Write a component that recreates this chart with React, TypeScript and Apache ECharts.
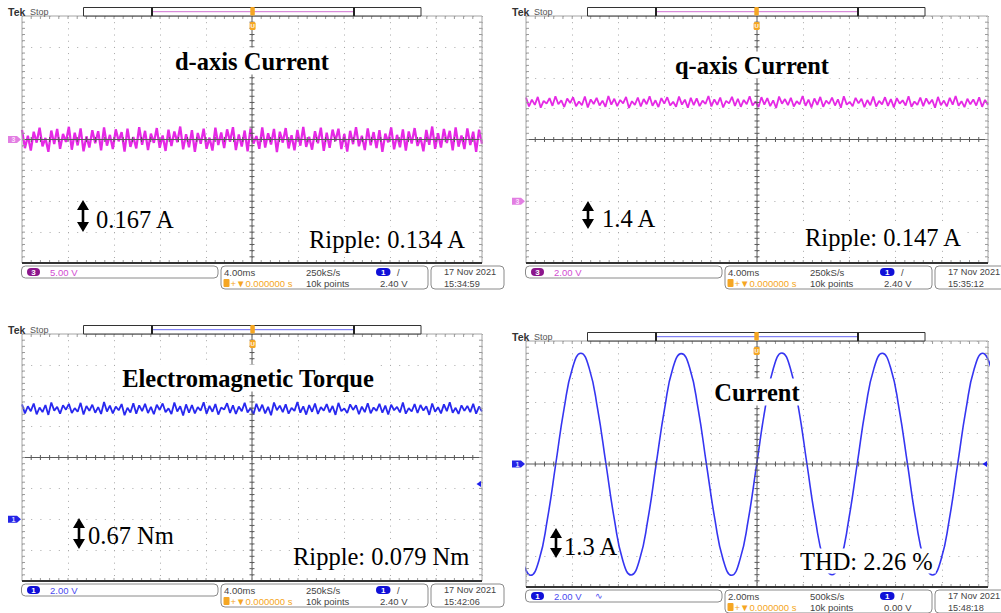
import React, { useEffect, useRef } from "react";
import * as echarts from "echarts";

// ---------- data (values in screen divisions) ----------
const dAxisCurrentDiv = [
  0.31, -0.28, 0.12, -0.36, 0.25, -0.1, 0.38, -0.22, 0.05, -0.4, 0.29, -0.15, 0.34, -0.3, 0.18, -0.08,
  0.41, -0.33, 0.22, -0.19, 0.36, -0.38, 0.1, -0.26, 0.3, -0.12, 0.27, -0.35, 0.39, -0.2, 0.15, -0.31,
  0.33, -0.06, 0.24, -0.39, 0.35, -0.24, 0.08, -0.29, 0.4, -0.17, 0.28, -0.34, 0.19, -0.11, 0.37, -0.27,
  0.13, -0.37, 0.32, -0.21, 0.26, -0.09, 0.42, -0.32, 0.17, -0.25, 0.3, -0.4, 0.21, -0.14, 0.35, -0.3,
  0.06, -0.36, 0.38, -0.18, 0.23, -0.28, 0.33, -0.07, 0.4, -0.34, 0.16, -0.23, 0.29, -0.38, 0.36, -0.13,
  0.11, -0.3, 0.39, -0.26, 0.2, -0.16, 0.34, -0.41, 0.25, -0.1, 0.37, -0.29, 0.14, -0.35, 0.31, -0.2,
  0.41, -0.24, 0.09, -0.33, 0.27, -0.12, 0.38, -0.37, 0.22, -0.27, 0.32, -0.05, 0.35, -0.31, 0.18, -0.39,
  0.28, -0.15, 0.4, -0.22, 0.12, -0.34, 0.36, -0.19, 0.24, -0.28, 0.3, -0.4, 0.19, -0.09, 0.39, -0.32,
  0.15, -0.25, 0.33, -0.36, 0.26, -0.13, 0.37, -0.21, 0.07, -0.38, 0.31, -0.17, 0.42, -0.3, 0.2, -0.26,
  0.34, -0.11, 0.28, -0.35, 0.39, -0.23, 0.13, -0.31, 0.36, -0.18, 0.25, -0.4, 0.32, -0.14,
];

const qAxisCurrentDiv = [
  1.36, 1.07, 1.29, 1.12, 1.38, 1.03, 1.25, 1.16, 1.34, 1.09, 1.4, 1.14, 1.27, 1.05, 1.33, 1.18,
  1.37, 1.08, 1.23, 1.11, 1.39, 1.04, 1.3, 1.15, 1.35, 1.1, 1.26, 1.06, 1.41, 1.13, 1.32, 1.08,
  1.28, 1.17, 1.38, 1.02, 1.24, 1.12, 1.36, 1.07, 1.31, 1.14, 1.4, 1.09, 1.27, 1.05, 1.34, 1.16,
  1.37, 1.1, 1.22, 1.06, 1.39, 1.13, 1.29, 1.03, 1.35, 1.11, 1.33, 1.08, 1.26, 1.15, 1.41, 1.07,
  1.3, 1.12, 1.36, 1.04, 1.25, 1.17, 1.38, 1.09, 1.32, 1.06, 1.28, 1.14, 1.4, 1.1, 1.23, 1.05,
  1.37, 1.13, 1.34, 1.08, 1.27, 1.02, 1.39, 1.16, 1.31, 1.11, 1.35, 1.07, 1.24, 1.14, 1.41, 1.09,
  1.29, 1.04, 1.33, 1.12, 1.38, 1.06, 1.26, 1.15, 1.36, 1.1, 1.3, 1.03, 1.4, 1.13, 1.22, 1.08,
  1.35, 1.17, 1.32, 1.05, 1.28, 1.11, 1.39, 1.07, 1.25, 1.14, 1.37, 1.09, 1.31, 1.04, 1.34, 1.16,
  1.27, 1.1, 1.4, 1.06, 1.23, 1.12, 1.36, 1.08, 1.33, 1.15, 1.29, 1.03, 1.38, 1.11, 1.26, 1.07,
  1.35, 1.13, 1.41, 1.09, 1.24, 1.05, 1.32, 1.14, 1.3, 1.1, 1.37, 1.06, 1.28, 1.12,
];

const torqueDiv = [
  1.72, 1.43, 1.66, 1.5, 1.75, 1.4, 1.62, 1.47, 1.7, 1.38, 1.78, 1.52, 1.64, 1.42, 1.69, 1.55,
  1.74, 1.44, 1.6, 1.48, 1.77, 1.39, 1.67, 1.51, 1.71, 1.45, 1.63, 1.41, 1.8, 1.49, 1.68, 1.43,
  1.65, 1.53, 1.73, 1.37, 1.61, 1.46, 1.76, 1.42, 1.69, 1.5, 1.74, 1.44, 1.64, 1.4, 1.71, 1.54,
  1.75, 1.47, 1.59, 1.41, 1.78, 1.49, 1.66, 1.36, 1.72, 1.45, 1.7, 1.43, 1.63, 1.52, 1.79, 1.42,
  1.67, 1.48, 1.73, 1.39, 1.62, 1.55, 1.76, 1.44, 1.69, 1.41, 1.65, 1.5, 1.77, 1.46, 1.6, 1.4,
  1.74, 1.49, 1.71, 1.43, 1.64, 1.37, 1.78, 1.53, 1.68, 1.47, 1.72, 1.42, 1.61, 1.51, 1.8, 1.45,
  1.66, 1.39, 1.7, 1.48, 1.75, 1.41, 1.63, 1.52, 1.73, 1.46, 1.67, 1.38, 1.77, 1.5, 1.59, 1.44,
  1.72, 1.54, 1.69, 1.4, 1.65, 1.47, 1.76, 1.43, 1.62, 1.51, 1.74, 1.45, 1.68, 1.39, 1.71, 1.53,
  1.64, 1.46, 1.78, 1.42, 1.6, 1.49, 1.73, 1.44, 1.7, 1.52, 1.66, 1.38, 1.75, 1.48, 1.63, 1.43,
  1.72, 1.5, 1.79, 1.45, 1.61, 1.41, 1.69, 1.51, 1.67, 1.47, 1.74, 1.42, 1.65, 1.49,
];

const currentTimeMs = [
  -0.1625, 0.2, 0.5625, 0.925, 1.2875, 1.65, 2.0125, 2.375, 2.7375, 3.1, 3.4625, 3.825, 4.1875,
  4.55, 4.9125, 5.275, 5.6375, 6.0, 6.3625, 6.725, 7.0875, 7.45, 7.8125, 8.175, 8.5375,
  8.9, 9.2625, 9.625, 9.9875, 10.35, 10.7125, 11.075, 11.4375, 11.8, 12.1625, 12.525, 12.8875,
  13.25, 13.6125, 13.975, 14.3375, 14.7, 15.0625, 15.425, 15.7875, 16.15, 16.5125, 16.875, 17.2375,
  17.6, 17.9625, 18.325, 18.6875, 19.05, 19.4125, 19.775, 20.1375,
];
const currentDiv = [
  -3.12, -3.62, -3.13, -1.8, 0.0, 1.81, 3.12, 3.6, 3.11, 1.79, 0.0, -1.8, -3.13,
  -3.61, -3.12, -1.81, 0.01, 1.8, 3.13, 3.59, 3.12, 1.8, -0.01, -1.79, -3.12,
  -3.62, -3.11, -1.8, 0.0, 1.8, 3.12, 3.61, 3.13, 1.81, 0.0, -1.8, -3.12,
  -3.6, -3.13, -1.79, 0.0, 1.81, 3.11, 3.6, 3.12, 1.8, 0.01, -1.81, -3.12,
  -3.61, -3.12, -1.8, 0.0, 1.79, 3.12, 3.6, 3.11,
];

const panelTitles = ["d-axis Current", "q-axis Current", "Electromagnetic Torque", "Current"];
const stepLabels = ["0.167 A", "1.4 A", "0.67 Nm", "1.3 A"];
const resultLabels = ["Ripple: 0.134 A", "Ripple: 0.147 A", "Ripple: 0.079 Nm", "THD: 2.26 %"];
const channelNumbers = ["3", "3", "1", "1"];
const channelScales = ["5.00 V", "2.00 V", "2.00 V", "2.00 V"];
const timeBases = ["4.00ms", "4.00ms", "4.00ms", "2.00ms"];
const sampleRates = ["250kS/s", "250kS/s", "250kS/s", "500kS/s"];
const recordLengths = ["10k points", "10k points", "10k points", "10k points"];
const triggerLevels = ["2.40 V", "2.40 V", "2.40 V", "0.00 V"];
const triggerPositions = ["+▼0.000000 s", "+▼0.000000 s", "+▼0.000000 s", "+▼0.000000 s"];
const captureDates = ["17 Nov 2021", "17 Nov 2021", "17 Nov 2021", "17 Nov 2021"];
const captureTimes = ["15:34:59", "15:35:12", "15:42:06", "15:48:18"];
const timeSpanMs = [40, 40, 40, 20];
const groundLevelDiv = [0, -2, -2, 0];
const triggerMarkDiv = [null, null, -0.86, 0];

// ---------- layout / style ----------
const MAG = "#e41ee4";
const BLUE = "#1c1cee";
const traceColors = [MAG, MAG, BLUE, "#2a2af0"];
const traceWidths = [2.3, 1.8, 1.8, 1.6];
const panels = [
  { left: 22, top: 16, width: 460, height: 247 },
  { left: 526, top: 16, width: 462, height: 247 },
  { left: 22, top: 334, width: 460, height: 247 },
  { left: 526, top: 341, width: 462, height: 246 },
];
const annotationLayout = [
  { titleX: 252, titleY: 61, arrowX: 83, arrowTop: 200, arrowBottom: 232, stepX: 96, stepY: 219, resultX: 306, resultY: 239 },
  { titleX: 752, titleY: 65, arrowX: 588, arrowTop: 201, arrowBottom: 229, stepX: 602, stepY: 218, resultX: 802, resultY: 237 },
  { titleX: 248, titleY: 378, arrowX: 79, arrowTop: 518, arrowBottom: 549, stepX: 88, stepY: 535, resultX: 290, resultY: 556 },
  { titleX: 757, titleY: 392, arrowX: 556, arrowTop: 528, arrowBottom: 558, stepX: 564, stepY: 546, resultX: 797, resultY: 561 },
];
const SERIF = "'Liberation Serif', 'Times New Roman', serif";
const SANS = "'Liberation Sans', Arial, sans-serif";
const GZ = 100;

function txt(x: number, y: number, text: string, fill: string, fontSize: number, opts: any = {}) {
  const style: any = {
    text,
    fill,
    fontSize,
    fontFamily: opts.fontFamily || SANS,
    fontWeight: opts.fontWeight || "normal",
    align: opts.align || "left",
    textAlign: opts.align || "left",
    verticalAlign: "middle",
    textVerticalAlign: "middle",
  };
  if (opts.bg) {
    style.backgroundColor = opts.bg;
    style.padding = opts.padding || [1, 3, 1, 3];
  }
  return { type: "text", x, y, z: GZ + 2, silent: true, style };
}
function rect(x: number, y: number, w: number, h: number, style: any, r = 0) {
  return { type: "rect", z: GZ, silent: true, shape: { x, y, width: w, height: h, r }, style };
}
function line(x1: number, y1: number, x2: number, y2: number, stroke: string, lineWidth = 1) {
  return { type: "line", z: GZ + 1, silent: true, shape: { x1, y1, x2, y2 }, style: { stroke, lineWidth } };
}

function graticule(i: number) {
  return {
    type: "custom",
    xAxisIndex: i,
    yAxisIndex: i,
    data: [[0, 0]],
    silent: true,
    z: 3,
    renderItem: (params: any, api: any) => {
      const cs = params.coordSys;
      const x0 = cs.x, y0 = cs.y, w = cs.width, h = cs.height;
      const c = api.coord([timeSpanMs[i] / 2, 0]);
      const cx = c[0], cy = c[1];
      const ch: any[] = [];
      const ln = (a: number, b: number, d: number, e: number, s: string, lw = 1) =>
        ch.push({ type: "line", shape: { x1: a, y1: b, x2: d, y2: e }, style: { stroke: s, lineWidth: lw } });
      ln(x0, y0, x0 + w, y0, "#a4a4a4");
      ln(x0, y0, x0, y0 + h, "#a4a4a4");
      ln(x0 + w, y0, x0 + w, y0 + h, "#a4a4a4");
      ln(cx, y0, cx, y0 + h, "#5a5a5a");
      ln(x0, cy, x0 + w, cy, "#5a5a5a");
      for (let j = 1; j < 50; j++) {
        const x = x0 + (j * w) / 50;
        ln(x, cy - 2.5, x, cy + 2.5, "#5a5a5a");
        ln(x, y0, x, y0 + 3, "#9a9a9a");
        ln(x, y0 + h, x, y0 + h - 3, "#9a9a9a");
      }
      for (let j = 1; j < 40; j++) {
        const y = y0 + (j * h) / 40;
        ln(cx - 2.5, y, cx + 2.5, y, "#5a5a5a");
        ln(x0, y, x0 + 3, y, "#9a9a9a");
        ln(x0 + w, y, x0 + w - 3, y, "#9a9a9a");
      }
      ln(x0, y0 + h, x0 + w, y0 + h, "#333333", 2);
      return { type: "group", children: ch };
    },
  };
}

function buildOption() {
  const series: any[] = [
    { data: dAxisCurrentDiv.map((v, k) => [(k * timeSpanMs[0]) / (dAxisCurrentDiv.length - 1), v]) },
    { data: qAxisCurrentDiv.map((v, k) => [(k * timeSpanMs[1]) / (qAxisCurrentDiv.length - 1), v]) },
    { data: torqueDiv.map((v, k) => [(k * timeSpanMs[2]) / (torqueDiv.length - 1), v]) },
    { data: currentTimeMs.map((t, k) => [t, currentDiv[k]]), smooth: 0.5 },
  ].map((s, i) => ({
    type: "line",
    xAxisIndex: i,
    yAxisIndex: i,
    symbol: "none",
    silent: true,
    z: 2,
    clip: true,
    lineStyle: { color: traceColors[i], width: traceWidths[i], opacity: 0.95 },
    itemStyle: { color: traceColors[i] },
    ...s,
  }));
  for (let i = 0; i < 4; i++) series.push(graticule(i));

  return {
    animation: false,
    backgroundColor: "#ffffff",
    grid: panels.map((p) => ({ ...p, show: false, containLabel: false })),
    xAxis: panels.map((_, i) => ({
      type: "value",
      gridIndex: i,
      min: 0,
      max: timeSpanMs[i],
      interval: timeSpanMs[i] / 10,
      axisLine: { show: false },
      axisTick: { show: false },
      axisLabel: { show: false },
      splitLine: { show: true, lineStyle: { color: "#a8a8a8", width: 1, type: [1, 5.18] } },
    })),
    yAxis: panels.map((_, i) => ({
      type: "value",
      gridIndex: i,
      min: -4,
      max: 4,
      interval: 1,
      axisLine: { show: false },
      axisTick: { show: false },
      axisLabel: { show: false },
      splitLine: { show: true, lineStyle: { color: "#a8a8a8", width: 1, type: [1, 8.2] } },
    })),
    series,
  };
}

function buildGraphics(chart: any) {
  const g: any[] = [];
  panels.forEach((p, i) => {
    const ox = p.left, oy = p.top, pb = p.top + p.height;
    const pillColor = i < 2 ? "#8c168c" : "#1010d8";
    const barLine = i < 2 ? "#d070d0" : "#6464f0";
    // header
    g.push(txt(ox - 14, oy - 4.5, "Tek", "#333", 10.5, { fontWeight: "bold" }));
    g.push(txt(ox + 8, oy - 4.5, "Stop", "#555", 9));
    g.push(rect(ox + 61.5, oy - 8.5, 337.5, 8.5, { fill: "#fff", stroke: "#333", lineWidth: 1 }));
    g.push(line(ox + 130, oy - 4.3, ox + 332, oy - 4.3, barLine, 1));
    g.push(line(ox + 130, oy - 8.5, ox + 130, oy, "#222", 2));
    g.push(line(ox + 332, oy - 8.5, ox + 332, oy, "#222", 2));
    g.push({ ...rect(ox + 228.3, oy - 9, 4.5, 8.5, { fill: "#f5a623" }, 1), z: GZ + 2 });
    g.push({ ...rect(ox + 227.6, oy + 6, 6, 8, { fill: "#f5a623" }, 1.5), z: GZ + 1 });
    g.push(txt(ox + 230.6, oy + 10, "U", "#fff", 6, { align: "center", fontWeight: "bold" }));
    // bottom info bar
    g.push(rect(ox - 0.5, pb + 3, 196.5, 12, { fill: "#fff", stroke: "#8a8a8a", lineWidth: 1 }, 4));
    g.push({ ...rect(ox + 5, pb + 5, 13, 8, { fill: pillColor }, 4), z: GZ + 1 });
    g.push(txt(ox + 11.5, pb + 9, channelNumbers[i], "#fff", 8, { align: "center", fontWeight: "bold" }));
    g.push(txt(ox + 28, pb + 9, channelScales[i], i < 2 ? "#d24cd2" : "#4a4af0", 9.5));
    if (i === 3) g.push(txt(ox + 69, pb + 9, "∿", "#4a4af0", 9));
    g.push(rect(ox + 199, pb + 3, 207, 23, { fill: "#fff", stroke: "#8a8a8a", lineWidth: 1 }, 4));
    g.push(txt(ox + 202, pb + 9, timeBases[i], "#444", 9.5));
    g.push(txt(ox + 284, pb + 9, sampleRates[i], "#444", 9.5));
    g.push({ ...rect(ox + 354, pb + 5, 14.5, 8, { fill: "#1010d8" }, 4), z: GZ + 1 });
    g.push(txt(ox + 361.2, pb + 9, "1", "#fff", 8, { align: "center", fontWeight: "bold" }));
    g.push(txt(ox + 375, pb + 9, "/", "#444", 9.5));
    g.push({ ...rect(ox + 201.5, pb + 16, 6, 8, { fill: "#f5a623" }, 1), z: GZ + 1 });
    g.push(txt(ox + 208.5, pb + 20.5, triggerPositions[i], "#f5a623", 9.5));
    g.push(txt(ox + 284, pb + 20.5, recordLengths[i], "#444", 9.5));
    g.push(txt(ox + 358, pb + 20.5, triggerLevels[i], "#444", 9.5));
    g.push(rect(ox + 409, pb + 3, 73, 23, { fill: "#fff", stroke: "#8a8a8a", lineWidth: 1 }, 4));
    g.push(txt(ox + 422, pb + 9, captureDates[i], "#444", 9.2));
    g.push(txt(ox + 422, pb + 20.5, captureTimes[i], "#444", 9.2));
    // channel ground marker
    const gp = chart.convertToPixel({ gridIndex: i }, [0, groundLevelDiv[i]]);
    const my = gp[1];
    const mColor = i < 2 ? "#e27ee2" : "#2424e6";
    g.push({
      type: "polygon",
      z: GZ,
      silent: true,
      shape: { points: [[ox - 14, my - 3.5], [ox - 5, my - 3.5], [ox - 1, my], [ox - 5, my + 3.5], [ox - 14, my + 3.5]] },
      style: { fill: mColor },
    });
    g.push(txt(ox - 8.5, my + 0.3, channelNumbers[i], i < 2 ? "#fbe0fb" : "#d8d8ff", 7, { align: "center", fontWeight: "bold" }));
    // trigger level mark (right edge)
    if (triggerMarkDiv[i] !== null) {
      const tp = chart.convertToPixel({ gridIndex: i }, [timeSpanMs[i], triggerMarkDiv[i]]);
      g.push({
        type: "polygon",
        z: GZ,
        silent: true,
        shape: { points: [[tp[0] - 5.5, tp[1]], [tp[0] - 1, tp[1] - 3], [tp[0] - 1, tp[1] + 3]] },
        style: { fill: BLUE },
      });
    }
    // annotations
    const a = annotationLayout[i];
    const tw = a.arrowX;
    const t0 = a.arrowTop, t1 = a.arrowBottom;
    g.push({
      type: "polygon",
      z: GZ + 2,
      silent: true,
      shape: {
        points: [
          [tw, t0], [tw + 6, t0 + 10], [tw + 1.3, t0 + 10], [tw + 1.3, t1 - 10], [tw + 6, t1 - 10],
          [tw, t1], [tw - 6, t1 - 10], [tw - 1.3, t1 - 10], [tw - 1.3, t0 + 10], [tw - 6, t0 + 10],
        ],
      },
      style: { fill: "#000" },
    });
    g.push(txt(a.stepX, a.stepY, stepLabels[i], "#000", 24.5, { fontFamily: SERIF }));
    g.push(txt(a.resultX, a.resultY, resultLabels[i], "#000", 24.5, { fontFamily: SERIF, bg: "#fff", padding: [0, 3, 0, 3] }));
    g.push(
      txt(a.titleX, a.titleY, panelTitles[i], "#000", 24.5, {
        fontFamily: SERIF,
        fontWeight: "bold",
        align: "center",
        bg: "#fff",
        padding: [1, 3, 1, 3],
      })
    );
  });
  return g;
}

export default function App() {
  const ref = useRef<HTMLDivElement>(null);
  useEffect(() => {
    if (!ref.current) return;
    const chart = echarts.init(ref.current, null, { renderer: "svg" });
    chart.setOption(buildOption() as any);
    chart.setOption({ graphic: buildGraphics(chart) } as any);
    return () => chart.dispose();
  }, []);
  return (
    <div
      ref={ref}
      style={{ position: "absolute", left: 0, top: 0, width: 1001, height: 613, background: "#fff" }}
    />
  );
}
